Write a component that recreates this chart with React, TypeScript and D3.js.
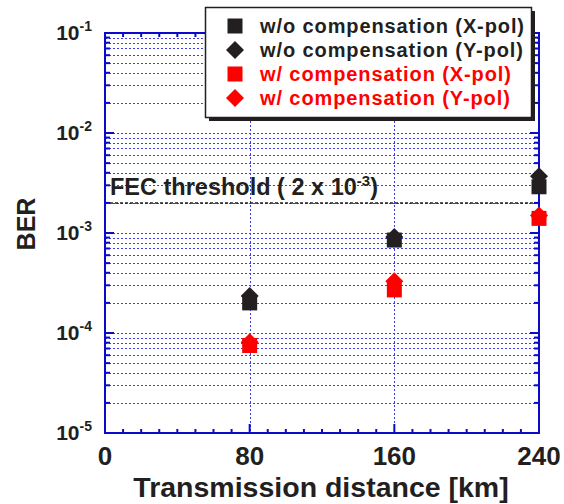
import React, { useRef, useEffect } from 'react';
import * as d3 from 'd3';

// distances [km]
const distances = [80, 160, 240];

// BER values
const woX = [2.0e-4, 8.5e-4, 2.9e-3];
const woY = [2.35e-4, 9.1e-4, 3.7e-3];
const wX = [7.5e-5, 2.7e-4, 1.4e-3];
const wY = [8.1e-5, 3.3e-4, 1.5e-3];

const fecThreshold = 2e-3;

const xTicks = [0, 80, 160, 240];
const yDecades = [-5, -4, -3, -2, -1];

const legendItems = [
  { label: 'w/o compensation (X-pol)', color: '#231f20', shape: 'square' },
  { label: 'w/o compensation (Y-pol)', color: '#231f20', shape: 'diamond' },
  { label: 'w/ compensation (X-pol)', color: '#ff0000', shape: 'square' },
  { label: 'w/ compensation (Y-pol)', color: '#ff0000', shape: 'diamond' },
];

const series = [
  { values: woY, color: '#231f20', shape: 'diamond' },
  { values: woX, color: '#231f20', shape: 'square' },
  { values: wY, color: '#ff0000', shape: 'diamond' },
  { values: wX, color: '#ff0000', shape: 'square' },
];

const W = 564;
const H = 504;
const BLUE = '#0a0ac8';
const GRID = '#3c3cf0';
const TEXT = '#231f20';
const FONT = '"Liberation Sans", Arial, sans-serif';

export default function App() {
  const svgRef = useRef<SVGSVGElement>(null);

  useEffect(() => {
    const svg = d3.select(svgRef.current);
    svg.selectAll('*').remove();

    const left = 105;
    const right = 539;
    const top = 33;
    const bottom = 433;

    const x = d3.scaleLinear().domain([0, 240]).range([left, right]);
    const y = d3.scaleLog().domain([1e-5, 1e-1]).range([bottom, top]);

    // marker drawing helper
    const drawMarker = (g, cx, cy, shape, color) => {
      if (shape === 'square') {
        const s = 15;
        g.append('rect')
          .attr('x', cx - s / 2)
          .attr('y', cy - s / 2)
          .attr('width', s)
          .attr('height', s)
          .attr('fill', color);
      } else {
        const r = 9;
        g.append('path')
          .attr('d', `M${cx},${cy - r}L${cx + r},${cy}L${cx},${cy + r}L${cx - r},${cy}Z`)
          .attr('fill', color);
      }
    };

    // minor values for grid / ticks
    const minorVals = [];
    yDecades.slice(0, -1).forEach((d) => {
      for (let k = 1; k <= 9; k++) {
        const v = k * Math.pow(10, d);
        if (v > 1e-5) minorVals.push(v);
      }
    });

    // horizontal grid
    svg
      .append('g')
      .selectAll('line')
      .data(minorVals)
      .join('line')
      .attr('x1', left)
      .attr('x2', right)
      .attr('y1', (d) => Math.round(y(d)) + 0.5)
      .attr('y2', (d) => Math.round(y(d)) + 0.5)
      .attr('stroke', GRID)
      .attr('stroke-width', 1)
      .attr('stroke-dasharray', '2,2');

    // vertical grid
    svg
      .append('g')
      .selectAll('line')
      .data([80, 160])
      .join('line')
      .attr('x1', (d) => Math.round(x(d)) + 0.5)
      .attr('x2', (d) => Math.round(x(d)) + 0.5)
      .attr('y1', top)
      .attr('y2', bottom)
      .attr('stroke', GRID)
      .attr('stroke-width', 1)
      .attr('stroke-dasharray', '2,2');

    // FEC threshold
    svg
      .append('line')
      .attr('x1', left)
      .attr('x2', right)
      .attr('y1', y(fecThreshold))
      .attr('y2', y(fecThreshold))
      .attr('stroke', TEXT)
      .attr('stroke-width', 1.5)
      .attr('stroke-dasharray', '3,2');

    const fec = svg
      .append('text')
      .attr('x', left + 5)
      .attr('y', y(fecThreshold) - 8)
      .attr('font-family', FONT)
      .attr('font-weight', 'bold')
      .attr('font-size', 23.5)
      .attr('fill', TEXT);
    fec.append('tspan').text('FEC threshold ( 2 x 10');
    fec.append('tspan').attr('dy', -9).attr('font-size', 15).text('-3');
    fec.append('tspan').attr('dy', 9).text(')');

    // ticks
    const ticks = svg.append('g').attr('stroke', BLUE).attr('stroke-width', 2);
    minorVals.concat([1e-5, 1e-1]).forEach((v) => {
      const major = Math.abs(Math.log10(v) - Math.round(Math.log10(v))) < 1e-9;
      const len = major ? 9 : 5;
      const yy = y(v);
      ticks.append('line').attr('x1', left).attr('x2', left + len).attr('y1', yy).attr('y2', yy);
      ticks.append('line').attr('x1', right).attr('x2', right - len).attr('y1', yy).attr('y2', yy);
    });
    d3.range(0, 241, 10).forEach((v) => {
      const len = v % 80 === 0 ? 9 : 4;
      ticks.append('line').attr('x1', x(v)).attr('x2', x(v)).attr('y1', bottom).attr('y2', bottom - len);
      ticks.append('line').attr('x1', x(v)).attr('x2', x(v)).attr('y1', top).attr('y2', top + len);
    });

    // frame
    svg
      .append('rect')
      .attr('x', left)
      .attr('y', top)
      .attr('width', right - left)
      .attr('height', bottom - top)
      .attr('fill', 'none')
      .attr('stroke', BLUE)
      .attr('stroke-width', 2);

    // y tick labels
    yDecades.forEach((d) => {
      const t = svg
        .append('text')
        .attr('x', 92)
        .attr('y', y(Math.pow(10, d)) + 7)
        .attr('text-anchor', 'end')
        .attr('font-family', FONT)
        .attr('font-weight', 'bold')
        .attr('font-size', 21)
        .attr('fill', TEXT);
      t.append('tspan').text('10');
      t.append('tspan').attr('dy', -9).attr('font-size', 14).text(String(d));
    });

    // x tick labels
    svg
      .append('g')
      .selectAll('text')
      .data(xTicks)
      .join('text')
      .attr('x', (d) => x(d))
      .attr('y', 465)
      .attr('text-anchor', 'middle')
      .attr('font-family', FONT)
      .attr('font-weight', 'bold')
      .attr('font-size', 26)
      .attr('fill', TEXT)
      .text((d) => d);

    // axis titles
    svg
      .append('text')
      .attr('x', 321)
      .attr('y', 497)
      .attr('text-anchor', 'middle')
      .attr('font-family', FONT)
      .attr('font-weight', 'bold')
      .attr('font-size', 28.5)
      .attr('fill', TEXT)
      .text('Transmission distance [km]');

    svg
      .append('text')
      .attr('transform', 'translate(35,224) rotate(-90)')
      .attr('text-anchor', 'middle')
      .attr('font-family', FONT)
      .attr('font-weight', 'bold')
      .attr('font-size', 25)
      .attr('fill', TEXT)
      .text('BER');

    // data points
    const pts = svg.append('g');
    series.forEach((s) => {
      s.values.forEach((v, i) => drawMarker(pts, x(distances[i]), y(v), s.shape, s.color));
    });

    // legend
    const lg = svg.append('g');
    lg.append('rect').attr('x', 209).attr('y', 11).attr('width', 326).attr('height', 110).attr('fill', TEXT);
    lg.append('rect')
      .attr('x', 205.5)
      .attr('y', 7.5)
      .attr('width', 326)
      .attr('height', 110)
      .attr('fill', '#fff')
      .attr('stroke', TEXT)
      .attr('stroke-width', 1.5);
    legendItems.forEach((it, i) => {
      const cy = 26 + i * 24;
      drawMarker(lg, 235, cy, it.shape, it.color);
      lg.append('text')
        .attr('x', 260)
        .attr('y', cy + 7)
        .attr('font-family', FONT)
        .attr('font-weight', 'bold')
        .attr('font-size', 20)
        .attr('letter-spacing', 0.9)
        .attr('fill', it.color)
        .text(it.label);
    });
  }, []);

  return (
    <svg
      ref={svgRef}
      width={W}
      height={H}
      style={{ position: 'absolute', left: 0, top: 0, background: '#fff' }}
      xmlns="http://www.w3.org/2000/svg"
    />
  );
}
